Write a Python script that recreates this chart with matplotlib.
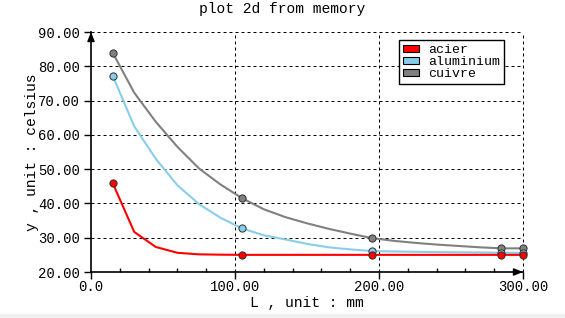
import matplotlib.pyplot as plt
from matplotlib.patches import Patch, Rectangle

# data (x step of 15 mm)
x = [15, 30, 45, 60, 75, 90, 105, 120, 135, 150,
     165, 180, 195, 210, 225, 240, 255, 270, 285, 300]
acier = [46.0, 31.7, 27.3, 25.6, 25.15, 25.05, 25.0, 25.0, 25.0, 25.0,
         25.0, 25.0, 25.0, 25.0, 25.0, 25.0, 25.0, 25.0, 25.0, 25.0]
aluminium = [77.3, 62.5, 53.0, 45.3, 39.8, 35.8, 32.7, 30.7, 29.5, 28.2,
             27.2, 26.6, 26.1, 26.0, 25.9, 25.8, 25.75, 25.7, 25.6, 25.6]
cuivre = [84.0, 72.3, 63.8, 56.5, 50.2, 45.5, 41.5, 38.3, 36.0, 34.2,
          32.6, 31.2, 29.9, 29.1, 28.5, 28.0, 27.6, 27.2, 26.9, 26.9]
marked = [0, 6, 12, 18, 19]

names = ['acier', 'aluminium', 'cuivre']
colors = ['#ff0000', '#87ceeb', '#808080']

x_ticks = [0, 100, 200, 300]
x_labels = ['0.0', '100.00', '200.00', '300.00']
y_ticks = [20, 30, 40, 50, 60, 70, 80, 90]
y_labels = ['%.2f' % v for v in y_ticks]

plt.rcParams['font.family'] = ['Liberation Mono', 'DejaVu Sans Mono']

fig = plt.figure(figsize=(5.65, 3.18), dpi=100)
fig.patches.append(Rectangle((0, 0), 1, 4 / 318, transform=fig.transFigure,
                             color='#f0f0f0', zorder=0))
ax = fig.add_axes([91 / 565, 46 / 318, 432 / 565, 240 / 318])

series = [cuivre, aluminium, acier]
cols = [colors[2], colors[1], colors[0]]
for k, (vals, c) in enumerate(zip(series, cols)):
    ax.plot(x, vals, color=c, lw=1.5, marker='o', markevery=marked,
            markersize=5.2, markerfacecolor=c, markeredgecolor='#303030',
            markeredgewidth=0.7, clip_on=False, zorder=3 + k)

ax.set_xlim(0, 300)
ax.set_ylim(20, 90)
ax.set_xticks(x_ticks)
ax.set_xticklabels(x_labels)
ax.set_xticks(range(0, 301, 20), minor=True)
ax.set_yticks(y_ticks)
ax.set_yticklabels(y_labels)

ax.spines['top'].set_visible(False)
ax.spines['right'].set_visible(False)
ax.spines['left'].set_linewidth(1.2)
ax.spines['bottom'].set_linewidth(1.2)

ax.tick_params(axis='both', which='major', direction='out', length=5,
               width=1, labelsize=10, pad=3)
ax.tick_params(axis='x', which='major', pad=1)
ax.tick_params(axis='x', which='minor', direction='in', length=3, width=1)

# dashed grid on major ticks
for v in x_ticks[1:]:
    ax.axvline(v, color='black', lw=0.72, ls=(0, (3, 3)), zorder=1,
               clip_on=False)
for v in y_ticks[1:]:
    ax.axhline(v, color='black', lw=0.72, ls=(0, (3, 3)), zorder=1,
               clip_on=False)

# axis arrows
xmin, xmax = ax.get_xlim()
ymin, ymax = ax.get_ylim()
arrow = dict(arrowstyle='-|>,head_length=0.55,head_width=0.22',
             color='black', lw=1, shrinkA=0, shrinkB=0)
ax.annotate('', xy=(xmin, ymax), xytext=(0, -10), textcoords='offset pixels',
            arrowprops=arrow, annotation_clip=False)
ax.annotate('', xy=(xmax, ymin), xytext=(-10, 0), textcoords='offset pixels',
            arrowprops=arrow, annotation_clip=False)

fig.text(0.5, 1 - 9 / 318, 'plot 2d from memory', fontsize=10.5,
         ha='center', va='center')
ax.set_xlabel('L , unit : mm', fontsize=10.5, labelpad=1)
ax.set_ylabel('y , unit : celsius', fontsize=10.5, labelpad=-1)

handles = [Patch(facecolor=c, edgecolor='black', lw=0.8) for c in colors]
leg = ax.legend(handles, names, loc='upper left',
                bbox_to_anchor=(308 / 432, 1 - 8 / 240), fontsize=9.5,
                frameon=True, fancybox=False, edgecolor='black',
                framealpha=1, labelspacing=0.0, handlelength=1.2,
                handleheight=0.4, handletextpad=0.7, borderpad=0.3,
                borderaxespad=0)
leg.get_frame().set_linewidth(1)
leg.set_zorder(10)

fig.savefig('out.png', dpi=100)
